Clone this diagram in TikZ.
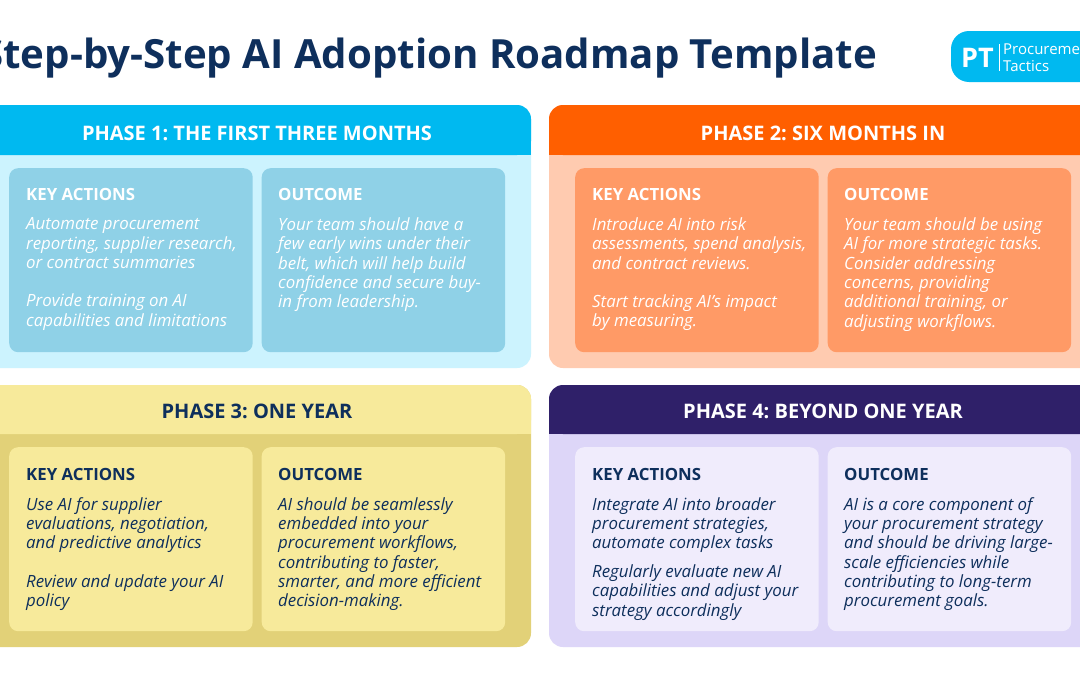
\documentclass[tikz,border=0pt]{standalone}
\usepackage{fontspec}
\setmainfont{Open Sans}
\frenchspacing
\definecolor{navy}{HTML}{0E2F5C}
\definecolor{skyhead}{HTML}{00B9F0}
\definecolor{skybody}{HTML}{CCF3FE}
\definecolor{skycard}{HTML}{8FD1E7}
\definecolor{orghead}{HTML}{FF5F00}
\definecolor{orgbody}{HTML}{FFCBB0}
\definecolor{orgcard}{HTML}{FF9A66}
\definecolor{yelhead}{HTML}{F7EA9B}
\definecolor{yelbody}{HTML}{E2D178}
\definecolor{purhead}{HTML}{2F2069}
\definecolor{purbody}{HTML}{DDD6F8}
\definecolor{purcard}{HTML}{F0ECFC}
\tikzset{
  card/.style={rounded corners=9pt, minimum width=243.5pt, minimum height=184pt, inner sep=0pt, anchor=north west},
  headtext/.style={inner sep=0pt, font=\fontsize{20pt}{22pt}\selectfont\bfseries},
  cardtitle/.style={inner sep=0pt, anchor=base west, font=\fontsize{16.8pt}{20pt}\selectfont\bfseries},
  cardtext/.style={inner sep=0pt, anchor=north west, align=left, font=\fontsize{16.85pt}{19.35pt}\selectfont\itshape},
  logotext/.style={anchor=base west, inner sep=0pt, text=white, font=\fontsize{15pt}{16pt}\selectfont},
}
\begin{document}
\begin{tikzpicture}
\useasboundingbox (0pt, 0pt) rectangle (1080pt, -675pt);
\clip (0pt, 0pt) rectangle (1080pt, -675pt);
\fill [white] (0pt, 0pt) rectangle (1080pt, -675pt);
% title and logo
\node (title) [anchor=base east, inner sep=0pt, text=navy, font=\fontsize{40.2pt}{46pt}\selectfont\bfseries] at (877pt, -68.5pt) {Step-by-Step AI Adoption Roadmap Template};
\fill [skyhead, rounded corners=18pt] (951pt, -31pt) rectangle (1120pt, -82pt);
\node (pt) [anchor=base west, inner sep=0pt, text=white, font=\fontsize{27pt}{28pt}\selectfont\bfseries] at (961pt, -67pt) {PT};
\fill [white] (998.5pt, -44pt) rectangle (999.5pt, -71pt);
\node (procurement) [logotext] at (1003pt, -54pt) {Procurement};
\node (tactics) [logotext] at (1003pt, -71pt) {Tactics};
% phase 1
\fill [skybody, rounded corners=14pt] (-30pt, -105pt) rectangle (531pt, -368pt);
\fill [skyhead, rounded corners=14pt] (-30pt, -105pt) rectangle (531pt, -155pt);
\fill [skyhead] (-30pt, -130pt) rectangle (531pt, -155pt);
\node (head1) [headtext, text=white] at (257pt, -133pt) {PHASE 1: THE FIRST THREE MONTHS};
\node (card1a) [card, fill=skycard] at (9pt, -168pt) {};
\node (card1b) [card, fill=skycard] at (261.5pt, -168pt) {};
\node (title1a) [cardtitle, text=white] at (26pt, -200pt) {KEY ACTIONS};
\node (text1a) [cardtext, text=white] at (26pt, -217.5pt) {Automate procurement\\reporting, supplier research,\\or contract summaries\\[19pt]Provide training on AI\\capabilities and limitations};
\node (title1b) [cardtitle, text=white] at (278pt, -200pt) {OUTCOME};
\node (text1b) [cardtext, text=white] at (278pt, -217.5pt) {Your team should have a\\few early wins under their\\belt, which will help build\\confidence and secure buy-\\in from leadership.};
% phase 2
\fill [orgbody, rounded corners=14pt] (549pt, -105pt) rectangle (1110pt, -368pt);
\fill [orghead, rounded corners=14pt] (549pt, -105pt) rectangle (1110pt, -155pt);
\fill [orghead] (549pt, -130pt) rectangle (1110pt, -155pt);
\node (head2) [headtext, text=white] at (823pt, -133pt) {PHASE 2: SIX MONTHS IN};
\node (card2a) [card, fill=orgcard] at (575pt, -168pt) {};
\node (card2b) [card, fill=orgcard] at (827.5pt, -168pt) {};
\node (title2a) [cardtitle, text=white] at (592pt, -200pt) {KEY ACTIONS};
\node (text2a) [cardtext, text=white] at (592pt, -217.5pt) {Introduce AI into risk\\assessments, spend analysis,\\and contract reviews.\\[19pt]Start tracking AI’s impact\\by measuring.};
\node (title2b) [cardtitle, text=white] at (844pt, -200pt) {OUTCOME};
\node (text2b) [cardtext, text=white] at (844pt, -217.5pt) {Your team should be using\\AI for more strategic tasks.\\Consider addressing\\concerns, providing\\additional training, or\\adjusting workflows.};
% phase 3
\fill [yelbody, rounded corners=14pt] (-30pt, -385pt) rectangle (531pt, -647pt);
\fill [yelhead, rounded corners=14pt] (-30pt, -385pt) rectangle (531pt, -434pt);
\fill [yelhead] (-30pt, -410pt) rectangle (531pt, -434pt);
\node (head3) [headtext, text=navy] at (257pt, -411.5pt) {PHASE 3: ONE YEAR};
\node (card3a) [card, fill=yelhead] at (9pt, -447pt) {};
\node (card3b) [card, fill=yelhead] at (261.5pt, -447pt) {};
\node (title3a) [cardtitle, text=navy] at (26pt, -480pt) {KEY ACTIONS};
\node (text3a) [cardtext, text=navy] at (26pt, -497pt) {Use AI for supplier\\evaluations, negotiation,\\and predictive analytics\\[19pt]Review and update your AI\\policy};
\node (title3b) [cardtitle, text=navy] at (278pt, -480pt) {OUTCOME};
\node (text3b) [cardtext, text=navy] at (278pt, -497pt) {AI should be seamlessly\\embedded into your\\procurement workflows,\\contributing to faster,\\smarter, and more efficient\\decision-making.};
% phase 4
\fill [purbody, rounded corners=14pt] (549pt, -385pt) rectangle (1110pt, -647pt);
\fill [purhead, rounded corners=14pt] (549pt, -385pt) rectangle (1110pt, -434pt);
\fill [purhead] (549pt, -410pt) rectangle (1110pt, -434pt);
\node (head4) [headtext, text=white] at (823pt, -411.5pt) {PHASE 4: BEYOND ONE YEAR};
\node (card4a) [card, fill=purcard] at (575pt, -447pt) {};
\node (card4b) [card, fill=purcard] at (827.5pt, -447pt) {};
\node (title4a) [cardtitle, text=navy] at (592pt, -480pt) {KEY ACTIONS};
\node (text4a) [cardtext, text=navy] at (592pt, -497pt) {Integrate AI into broader\\procurement strategies,\\automate complex tasks\\[9.5pt]Regularly evaluate new AI\\capabilities and adjust your\\strategy accordingly};
\node (title4b) [cardtitle, text=navy] at (844pt, -480pt) {OUTCOME};
\node (text4b) [cardtext, text=navy] at (844pt, -497pt) {AI is a core component of\\your procurement strategy\\and should be driving large-\\scale efficiencies while\\contributing to long-term\\procurement goals.};
\end{tikzpicture}
\end{document}
